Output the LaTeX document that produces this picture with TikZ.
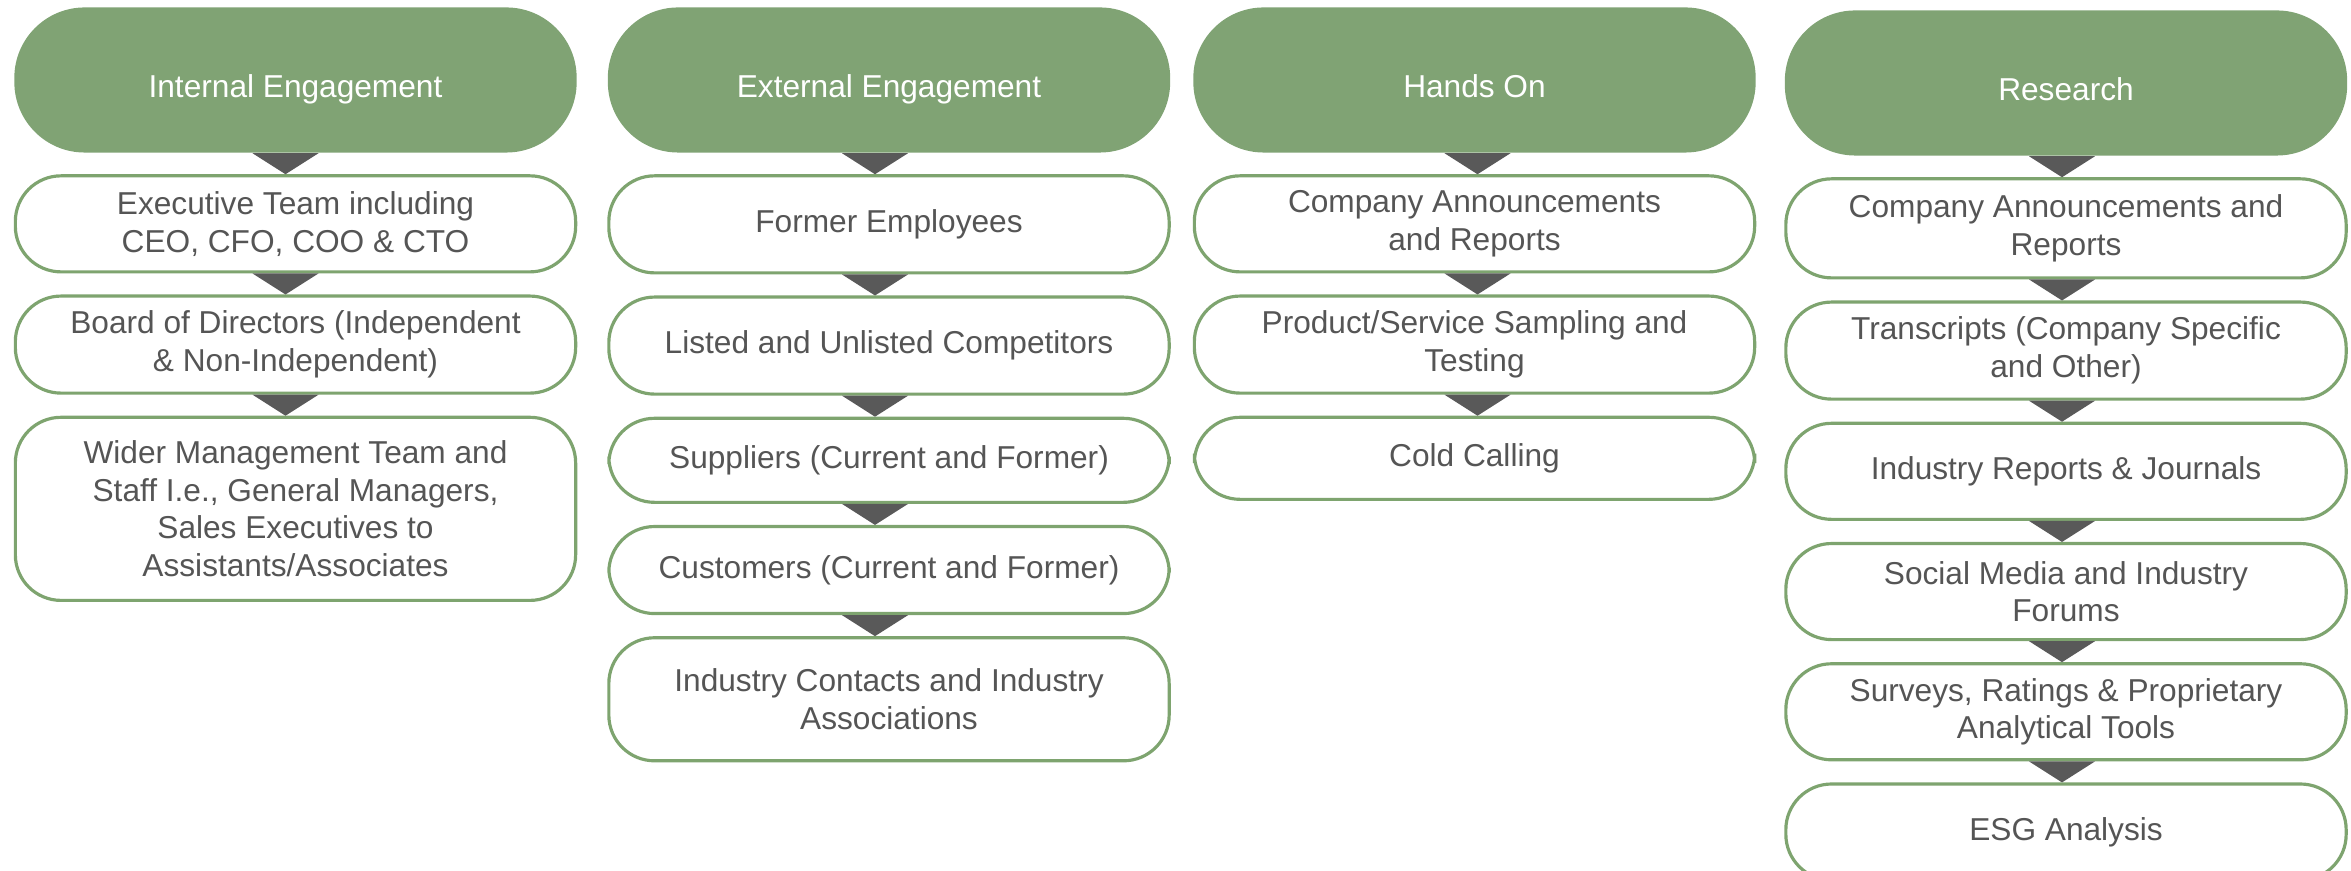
\documentclass[tikz,border=0pt]{standalone}
\usepackage{fontspec}
\setmainfont{Liberation Sans}
\usetikzlibrary{positioning, calc}
\definecolor{headgreen}{RGB}{128,163,116}
\definecolor{linegreen}{RGB}{126,164,111}
\definecolor{dropgrey}{RGB}{89,89,89}
\definecolor{textgrey}{RGB}{85,85,85}
\newcommand{\Drop}[3][0]{%
  \fill[drop] ($(#2.south)+({#1-33},0)$) -- ($(#2.south)+({#1+33},0)$) -- ($(#3.north)+(#1,0)$) -- cycle;}
\tikzset{
    head/.style={rectangle, rounded corners=20pt, fill=headgreen, text=white,
      minimum width=5.62cm, minimum height=1.45cm, inner sep=0pt,
      text height=1.2em, text depth=0.19em},
    item/.style={rectangle, rounded corners=13pt, draw=linegreen, line width=0.9pt,
      fill=white, text=textgrey, minimum width=5.6cm, align=center, inner sep=0pt},
    drop/.style={fill=dropgrey},
    every node/.append style={font=\fontsize{9}{10.7}\selectfont},
}

\begin{document}
\begin{tikzpicture}[x=0.01cm, y=0.01cm]
    \tikzset{node distance=0.21cm}
    \useasboundingbox (0,0) rectangle (2351,-871);
    \clip (0,0) rectangle (2351,-871);

    % internal engagement
    \node[head] (ie) at (295.5,-80) {Internal Engagement};
    \node[item, minimum height=0.96cm, below=of ie] (ie1) {Executive Team including\\CEO, CFO, COO \& CTO};
    \node[item, minimum height=0.97cm, below=of ie1] (ie2) {Board of Directors (Independent\\\& Non-Independent)};
    \node[item, minimum height=1.83cm, below=of ie2] (ie3) {Wider Management Team and\\Staff I.e., General Managers,\\Sales Executives to\\Assistants/Associates};

    % external engagement
    \node[head] (ee) at (889,-80) {External Engagement};
    \node[item, minimum height=0.97cm, below=of ee] (ee1) {Former Employees};
    \node[item, minimum height=0.97cm, below=of ee1] (ee2) {Listed and Unlisted Competitors};
    \node[item, minimum height=0.84cm, below=of ee2] (ee3) {Suppliers (Current and Former)};
    \node[item, minimum height=0.87cm, below=of ee3] (ee4) {Customers (Current and Former)};
    \node[item, minimum height=1.23cm, below=of ee4] (ee5) {Industry Contacts and Industry\\Associations};

    % hands on
    \node[head] (ho) at (1474.5,-80) {Hands On};
    \node[item, minimum height=0.96cm, below=of ho] (ho1) {Company Announcements\\and Reports};
    \node[item, minimum height=0.97cm, below=of ho1] (ho2) {Product/Service Sampling and\\Testing};
    \node[item, minimum height=0.82cm, below=of ho2] (ho3) {Cold Calling};

    % research
    \node[head] (rs) at (2066,-83) {Research};
    \node[item, minimum height=0.99cm, below=of rs] (rs1) {Company Announcements and\\Reports};
    \node[item, minimum height=0.97cm, below=of rs1] (rs2) {Transcripts (Company Specific\\and Other)};
    \node[item, minimum height=0.96cm, below=of rs2] (rs3) {Industry Reports \& Journals};
    \node[item, minimum height=0.96cm, below=of rs3] (rs4) {Social Media and Industry\\Forums};
    \node[item, minimum height=0.96cm, below=of rs4] (rs5) {Surveys, Ratings \& Proprietary\\Analytical Tools};
    \node[item, minimum height=0.96cm, below=of rs5] (rs6) {ESG Analysis};

    \Drop[-10]{ie}{ie1}
    \Drop[-10]{ie1}{ie2}
    \Drop[-10]{ie2}{ie3}

    \Drop[-14]{ee}{ee1}
    \Drop[-14]{ee1}{ee2}
    \Drop[-14]{ee2}{ee3}
    \Drop[-14]{ee3}{ee4}
    \Drop[-14]{ee4}{ee5}

    \Drop[3]{ho}{ho1}
    \Drop[3]{ho1}{ho2}
    \Drop[3]{ho2}{ho3}

    \Drop[-4]{rs}{rs1}
    \Drop[-4]{rs1}{rs2}
    \Drop[-4]{rs2}{rs3}
    \Drop[-4]{rs3}{rs4}
    \Drop[-4]{rs4}{rs5}
    \Drop[-4]{rs5}{rs6}
\end{tikzpicture}
\end{document}
